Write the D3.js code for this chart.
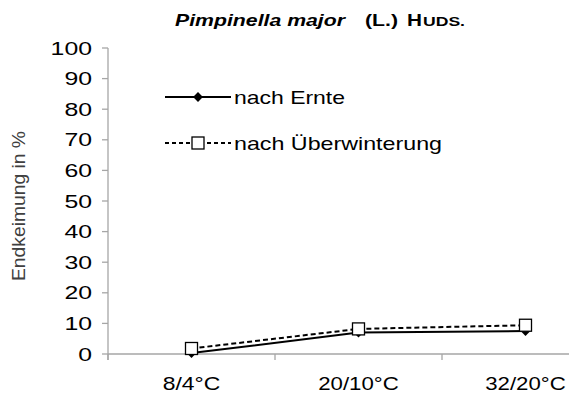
<!DOCTYPE html>
<html><head><meta charset="utf-8">
<script src="https://cdn.jsdelivr.net/npm/d3@7"></script>
<style>body{margin:0;background:#fff}svg{display:block}text{font-family:"Liberation Sans",Arial,sans-serif}</style>
</head><body><svg id="c" width="569" height="395"></svg>
<script>
const categories = ["8/4°C", "20/10°C", "32/20°C"];
const nachErnte = [0.3, 7, 7.5];
const nachUeberwinterung = [1.8, 8.2, 9.4];
const seriesNames = ["nach Ernte", "nach Überwinterung"];
const yTicks = [0, 10, 20, 30, 40, 50, 60, 70, 80, 90, 100];

const svg = d3.select("#c");
const plotLeft = 108, plotTop = 48, plotBottom = 354, bandW = 167;
const x = d3.scaleBand().domain(categories).range([plotLeft, plotLeft + bandW * categories.length]);
const y = d3.scaleLinear().domain([0, 100]).range([plotBottom, plotTop]);
const axisCol = "#a6a6a6";

// y axis
svg.append("line").attr("x1", plotLeft).attr("x2", plotLeft).attr("y1", y(100)).attr("y2", plotBottom + 6)
  .attr("stroke", axisCol).attr("stroke-width", 1.3);
yTicks.forEach(t => {
  svg.append("line").attr("x1", plotLeft - 6).attr("x2", plotLeft).attr("y1", y(t)).attr("y2", y(t))
    .attr("stroke", axisCol).attr("stroke-width", 1.3);
  svg.append("text").attr("x", 92).attr("y", y(t) + 6.5).attr("text-anchor", "end")
    .attr("font-size", 18.5).attr("fill", "#000")
    .attr("textLength", String(t).length * 13.8).attr("lengthAdjust", "spacingAndGlyphs")
    .text(t);
});
// x axis
svg.append("line").attr("x1", plotLeft).attr("x2", x.range()[1]).attr("y1", plotBottom).attr("y2", plotBottom)
  .attr("stroke", axisCol).attr("stroke-width", 1.3);
categories.forEach(c => {
  const xb = x(c);
  svg.append("line").attr("x1", xb).attr("x2", xb).attr("y1", plotBottom).attr("y2", plotBottom + 6)
    .attr("stroke", axisCol).attr("stroke-width", 1.3);
  svg.append("text").attr("x", xb + x.bandwidth() / 2).attr("y", 390).attr("text-anchor", "middle")
    .attr("font-size", 18.5).attr("fill", "#000")
    .attr("textLength", c.length * 11.5).attr("lengthAdjust", "spacingAndGlyphs")
    .text(c);
});

// axis title
svg.append("text").attr("transform", `translate(25,${(plotTop + plotBottom) / 2 + 5}) rotate(-90)`)
  .attr("text-anchor", "middle").attr("font-size", 19).attr("fill", "#404040")
  .attr("textLength", 150).attr("lengthAdjust", "spacingAndGlyphs")
  .text("Endkeimung in %");

// title
const tY = 26;
svg.append("text").attr("x", 175).attr("y", tY).attr("font-size", 16.5).attr("font-weight", "bold").attr("font-style", "italic")
  .attr("textLength", 170).attr("lengthAdjust", "spacingAndGlyphs").text("Pimpinella major");
svg.append("text").attr("x", 365).attr("y", tY).attr("font-size", 16.5).attr("font-weight", "bold")
  .attr("textLength", 33).attr("lengthAdjust", "spacingAndGlyphs").text("(L.)");
svg.append("text").attr("x", 407).attr("y", tY).attr("font-size", 16.5).attr("font-weight", "bold")
  .attr("textLength", 15).attr("lengthAdjust", "spacingAndGlyphs").text("H");
svg.append("text").attr("x", 423).attr("y", tY).attr("font-size", 12.5).attr("font-weight", "bold")
  .attr("textLength", 42).attr("lengthAdjust", "spacingAndGlyphs").text("UDS.");

const cx = c => x(c) + x.bandwidth() / 2;
const line = d3.line().x((d, i) => cx(categories[i])).y(d => y(d));
const diamondPath = d3.symbol().type(d3.symbolSquare).size(48)();

// series 1 solid diamonds
svg.append("path").datum(nachErnte).attr("d", line).attr("fill", "none").attr("stroke", "#000").attr("stroke-width", 2);
nachErnte.forEach((v, i) => {
  svg.append("path").attr("d", diamondPath)
    .attr("transform", `translate(${cx(categories[i])},${y(v)}) rotate(45)`).attr("fill", "#000");
});
// series 2 dashed squares
svg.append("path").datum(nachUeberwinterung).attr("d", line).attr("fill", "none").attr("stroke", "#000")
  .attr("stroke-width", 2).attr("stroke-dasharray", "5,3");
nachUeberwinterung.forEach((v, i) => {
  svg.append("rect").attr("x", cx(categories[i]) - 6).attr("y", y(v) - 6).attr("width", 12).attr("height", 12)
    .attr("fill", "#fff").attr("stroke", "#000").attr("stroke-width", 1.3);
});

// legend
const lg = [{y: 97, dash: null}, {y: 143, dash: "4,3"}];
lg.forEach((l, i) => {
  svg.append("line").attr("x1", 165).attr("x2", 231).attr("y1", l.y).attr("y2", l.y)
    .attr("stroke", "#000").attr("stroke-width", 2).attr("stroke-dasharray", l.dash);
  if (i === 0) {
    svg.append("path").attr("d", diamondPath)
      .attr("transform", `translate(198,${l.y}) rotate(45)`).attr("fill", "#000");
  } else {
    svg.append("rect").attr("x", 192).attr("y", l.y - 6).attr("width", 12).attr("height", 12)
      .attr("fill", "#fff").attr("stroke", "#000").attr("stroke-width", 1.3);
  }
  svg.append("text").attr("x", 234).attr("y", l.y + 6.5).attr("font-size", 18.5).attr("fill", "#000")
    .attr("textLength", i === 0 ? 111 : 208).attr("lengthAdjust", "spacingAndGlyphs")
    .text(seriesNames[i]);
});
</script></body></html>
